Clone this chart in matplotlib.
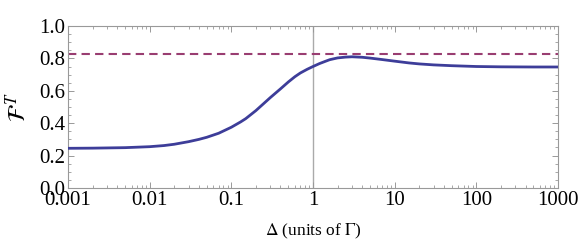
import matplotlib
matplotlib.use("Agg")
import matplotlib.pyplot as plt
from matplotlib.ticker import FixedLocator, FixedFormatter, MultipleLocator, LogLocator, NullFormatter

plt.rcParams['font.family'] = ['Liberation Serif', 'DejaVu Serif']
plt.rcParams['mathtext.fontset'] = 'stix'

# detuning (units of Gamma) and fidelity
delta = [0.001, 0.002, 0.005, 0.01, 0.015, 0.02, 0.03, 0.04, 0.05, 0.07, 0.1,
         0.13, 0.15, 0.2, 0.25, 0.3, 0.4, 0.5, 0.6, 0.7, 0.85, 1, 1.2, 1.4,
         1.6, 2, 2.5, 3, 4, 5, 7, 10, 15, 20, 30, 50, 100, 200, 500, 1000]
fid = [0.245, 0.246, 0.249, 0.255, 0.262, 0.270, 0.286, 0.300, 0.313, 0.338,
       0.375, 0.408, 0.428, 0.478, 0.522, 0.558, 0.612, 0.655, 0.687, 0.710,
       0.733, 0.750, 0.768, 0.781, 0.792, 0.803, 0.808, 0.810, 0.807, 0.802,
       0.793, 0.783, 0.772, 0.766, 0.760, 0.755, 0.750, 0.748, 0.747, 0.747]
classical_limit = 0.83
xticks = [0.001, 0.01, 0.1, 1, 10, 100, 1000]
xticklabels = ['0.001', '0.01', '0.1', '1', '10', '100', '1000']
yticks = [0.0, 0.2, 0.4, 0.6, 0.8, 1.0]

fig = plt.figure(figsize=(5.82, 2.47), dpi=100)
ax = fig.add_axes([0.1168, 0.2389, 0.842, 0.6558])

ax.axvline(1, color='#aaaaaa', lw=1.0, zorder=1)
ax.axhline(classical_limit, color='#993d71', lw=1.5, dashes=(4, 2.5), zorder=2)
ax.plot(delta, fid, color='#3d3d99', lw=2.0, zorder=3, solid_joinstyle='round')

ax.set_xscale('log')
ax.set_xlim(0.001, 1000)
ax.set_ylim(0, 1.0)

ax.xaxis.set_major_locator(FixedLocator(xticks))
ax.xaxis.set_major_formatter(FixedFormatter(xticklabels))
ax.xaxis.set_minor_locator(LogLocator(base=10, subs=range(2, 10), numticks=20))
ax.xaxis.set_minor_formatter(NullFormatter())
ax.set_yticks(yticks)
ax.set_yticklabels(['%.1f' % v for v in yticks])
ax.yaxis.set_minor_locator(MultipleLocator(0.05))

for s in ax.spines.values():
    s.set_color('#999999')
    s.set_linewidth(0.8)

ax.tick_params(which='both', direction='in', top=True, right=True, color='#999999',
               labelsize=15, pad=2)
ax.tick_params(which='major', length=4, width=0.7)
ax.tick_params(which='minor', length=2, width=0.6)

ax.set_xlabel(r'$\Delta$ (units of $\Gamma$)', fontsize=12.5, labelpad=9)
ax.set_ylabel(r'$\mathcal{F}^{\,T}$', fontsize=17, labelpad=6)

fig.savefig('out.png', dpi=100)
